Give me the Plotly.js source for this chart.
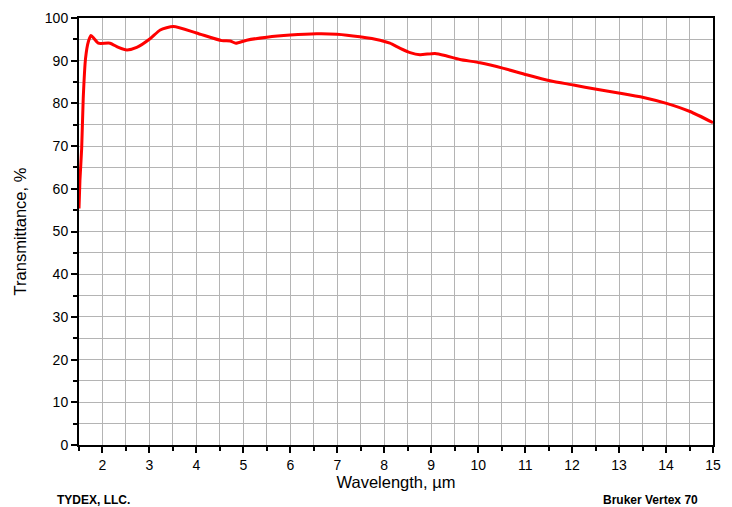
<!DOCTYPE html>
<html>
<head>
<meta charset="utf-8">
<script src="https://cdn.plot.ly/plotly-3.0.1.min.js"></script>
<style>html,body{margin:0;padding:0;background:#fff;}#chart{width:732px;height:507px;}</style>
</head>
<body>
<div id="chart"></div>
<script>
const wavelength = [1.50,1.52,1.557,1.59,1.64,1.70,1.756,1.82,1.91,2.16,2.34,2.52,2.73,3.02,3.23,3.51,4.0,4.54,4.72,4.84,5.07,5.50,6.0,6.56,6.99,7.48,7.91,8.12,8.34,8.55,8.76,9.08,9.33,9.61,10.04,10.54,11.03,11.53,12.03,12.52,13.02,13.52,14.01,14.51,15.0];
const transmittance = [55.4,62.0,69.5,81.2,90.6,94.5,95.9,95.2,94.1,94.1,93.1,92.5,93.1,95.2,97.2,98.0,96.5,94.7,94.6,94.1,94.8,95.5,96.0,96.3,96.2,95.6,94.8,94.1,92.9,91.9,91.4,91.7,91.1,90.3,89.5,88.2,86.7,85.3,84.3,83.3,82.4,81.4,80.0,78.1,75.5];
const xTickVals = [2,3,4,5,6,7,8,9,10,11,12,13,14,15];
const yTickVals = [0,10,20,30,40,50,60,70,80,90,100];
const xTitle = 'Wavelength, \u00b5m';
const yTitle = 'Transmittance, %';
const leftNote = 'TYDEX, LLC.';
const rightNote = 'Bruker Vertex 70';

const trace = {
  x: wavelength, y: transmittance, type: 'scatter', mode: 'lines',
  line: {color: '#ff0000', width: 3, shape: 'spline', smoothing: 0.6},
  hoverinfo: 'skip'
};
const font = {family: 'Liberation Sans, Arial, sans-serif', color: '#000'};
const layout = {
  width: 732, height: 507,
  margin: {l: 79, r: 19, t: 18, b: 62},
  paper_bgcolor: '#fff', plot_bgcolor: '#fff',
  showlegend: false,
  font: Object.assign({size: 14}, font),
  xaxis: {
    range: [1.5, 15], tickvals: xTickVals, ticks: 'outside', ticklen: 6, tickwidth: 2, tickcolor: '#000',
    showline: true, linecolor: '#000', linewidth: 2, mirror: true,
    showgrid: true, gridcolor: '#b4b4b4', gridwidth: 1, zeroline: false,
    minor: {dtick: 0.5, tick0: 1.5, ticks: 'outside', ticklen: 4, tickwidth: 2, tickcolor: '#000', showgrid: true, gridcolor: '#b4b4b4', gridwidth: 1},
    tickfont: {size: 14, color: '#000'},
    title: {text: xTitle, font: {size: 16.5, color: '#000'}, standoff: 3}
  },
  yaxis: {
    range: [0, 100], tickvals: yTickVals, ticks: 'outside', ticklen: 6, tickwidth: 2, tickcolor: '#000',
    showline: true, linecolor: '#000', linewidth: 2, mirror: true,
    showgrid: true, gridcolor: '#b4b4b4', gridwidth: 1, zeroline: false,
    minor: {dtick: 5, tick0: 0, ticks: 'outside', ticklen: 4, tickwidth: 2, tickcolor: '#000', showgrid: true, gridcolor: '#b4b4b4', gridwidth: 1},
    tickfont: {size: 14, color: '#000'},
    title: {text: yTitle, font: {size: 16.5, color: '#000'}, standoff: 14}
  },
  annotations: [
    {text: '<b>' + leftNote + '</b>', xref: 'paper', yref: 'paper', x: -0.038, y: -0.129, xanchor: 'left', yanchor: 'middle', showarrow: false, font: {size: 12, color: '#000'}},
    {text: '<b>' + rightNote + '</b>', xref: 'paper', yref: 'paper', x: 0.98, y: -0.129, xanchor: 'right', yanchor: 'middle', showarrow: false, font: {size: 12, color: '#000'}}
  ]
};
Plotly.newPlot('chart', [trace], layout, {displayModeBar: false, staticPlot: true});
</script>
</body>
</html>
